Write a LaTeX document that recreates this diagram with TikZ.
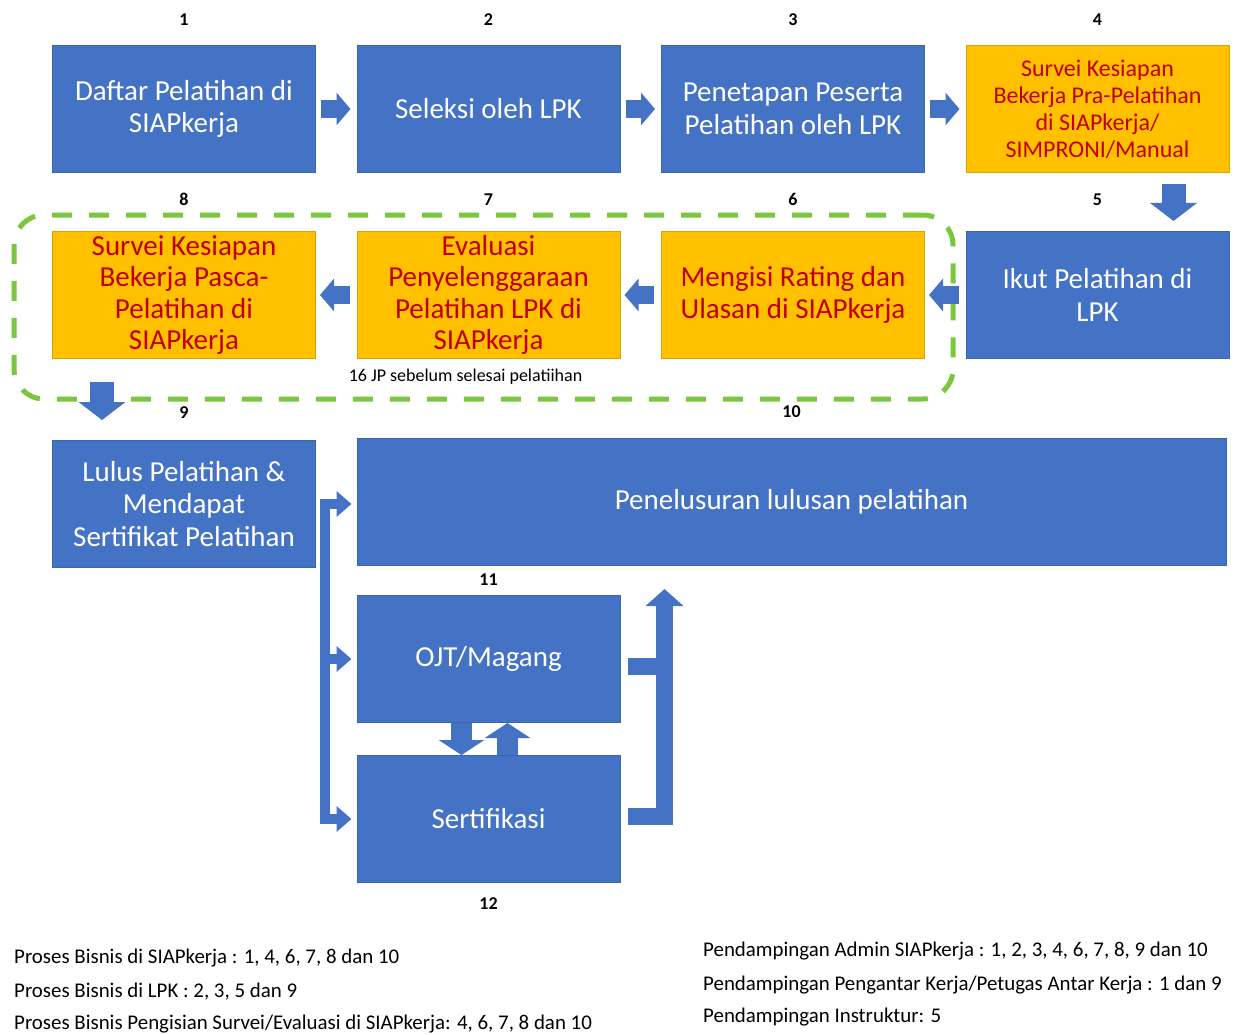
\documentclass[tikz,border=0pt]{standalone}
\usepackage{fontspec}
\setmainfont{Carlito}
\usetikzlibrary{positioning}
\usetikzlibrary{chains}
\usetikzlibrary{fit}
\usetikzlibrary{arrows.meta}
\definecolor{stepblue}{HTML}{4472C4}
\definecolor{stepedge}{HTML}{3B65B2}
\definecolor{surveygold}{HTML}{FFC000}
\definecolor{surveyedge}{HTML}{D9A400}
\definecolor{surveyred}{HTML}{C00000}
\definecolor{groupgreen}{RGB}{122,198,60}

\begin{document}
\begin{tikzpicture}[x=1pt, y=1pt,
            node distance = 40.5pt,
            start chain = going right,
            box/.style = {draw=stepedge, line width=1pt, fill=stepblue,
                text=white, inner sep=1pt, minimum width=263pt,
                minimum height=127pt, align=center,
                font=\fontsize{29}{32.5}\selectfont},
            gbox/.style = {box, draw=surveyedge, fill=surveygold,
                text=surveyred},
            num/.style = {font=\fontsize{18}{20}\selectfont\bfseries,
                inner sep=0pt},
            note/.style = {font=\fontsize{18}{20}\selectfont, inner sep=0pt},
            legend/.style = {font=\fontsize{20.9}{23}\selectfont,
                inner sep=0pt, anchor=west},
            fat/.style = {stepblue, line width=18pt,
                -{Triangle[width=32pt,length=14pt]}},
            drop/.style = {stepblue, line width=24pt,
                -{Triangle[width=46pt,length=18pt]}},
            swap/.style = {stepblue, line width=21pt,
                -{Triangle[width=45pt,length=15pt]}},
            bar/.style = {stepblue, line width=10pt, line cap=rect,
                line join=miter, -{Triangle[width=25pt,length=15pt]}},
            rise/.style = {stepblue, line width=17pt, line join=miter},
            group/.style = {draw=groupgreen, line width=5pt,
                dash pattern=on 20pt off 17pt, rounded corners=30pt,
                inner sep=0pt}]
            \useasboundingbox (0,0) rectangle (1236,-1035);
            % first row
            \node[box, on chain, anchor=north west,
                label={[num,label distance=19pt]above:1}] (b1) at (52,-45)
                {Daftar Pelatihan di\\SIAPkerja};
            \node[box, on chain,
                label={[num,label distance=19pt]above:2}] (b2)
                {Seleksi oleh LPK};
            \node[box, on chain,
                label={[num,label distance=19pt]above:3}] (b3)
                {Penetapan Peserta\\Pelatihan oleh LPK};
            \node[gbox, on chain, font=\fontsize{24}{27}\selectfont,
                label={[num,label distance=19pt]above:4}] (b4)
                {Survei Kesiapan\\Bekerja Pra-Pelatihan\\di SIAPkerja/\\SIMPRONI/Manual};
            % second row
            \node[box, below=58pt of b4,
                label={[num,label distance=25pt]above:5}] (b5)
                {Ikut Pelatihan di\\LPK};
            \node[gbox, left=of b5,
                label={[num,label distance=25pt]above:6}] (b6)
                {Mengisi Rating dan\\Ulasan di SIAPkerja};
            \node[gbox, left=of b6, font=\fontsize{29}{31.5}\selectfont,
                label={[num,label distance=25pt]above:7}] (b7)
                {Evaluasi\\Penyelenggaraan\\Pelatihan LPK di\\SIAPkerja};
            \node[gbox, left=of b7, font=\fontsize{29}{31.5}\selectfont,
                label={[num,label distance=25pt]above:8}] (b8)
                {Survei Kesiapan\\Bekerja Pasca-\\Pelatihan di\\SIAPkerja};
            \node[note, below=10pt of b7, xshift=-23pt] (jp)
                {16 JP sebelum selesai pelatiihan};
            \node[group, fit={([shift={(-38,16)}]b8.north west)
                ([shift={(28,-40)}]b6.south east)}] (grp) {};
            % third row
            \node[box, below=81pt of b8,
                label={[num,label distance=21pt]above:9}] (b9)
                {Lulus Pelatihan \&\\Mendapat\\Sertifikat Pelatihan};
            \node[box, right=of b9, yshift=2pt, minimum width=869pt,
                label={[num,label distance=20pt]above:10}] (b10)
                {Penelusuran lulusan pelatihan};
            \node[box, below right=29pt and 0pt of b10.south west,
                label={[num,label distance=9pt]above:11}] (b11)
                {OJT/Magang};
            \node[box, below=32pt of b11,
                label={[num,label distance=14pt]below:12}] (b12)
                {Sertifikasi};
            % block arrows
            \draw[fat, shorten <=5pt, shorten >=6pt] (b1) -- (b2);
            \draw[fat, shorten <=5pt, shorten >=6pt] (b2) -- (b3);
            \draw[fat, shorten <=5pt, shorten >=6pt] (b3) -- (b4);
            \draw[drop, shorten <=11pt, shorten >=10pt]
                ([xshift=76pt]b4.south) -- ([xshift=76pt]b4.south |- b5.north);
            \draw[fat, shorten <=7pt, shorten >=4pt] (b5) -- (b6);
            \draw[fat, shorten <=7pt, shorten >=4pt] (b6) -- (b7);
            \draw[fat, shorten <=7pt, shorten >=4pt] (b7) -- (b8);
            \draw[drop, shorten <=23pt, shorten >=20pt]
                ([xshift=-82pt]b8.south) -- ([xshift=-82pt]b8.south |- b9.north);
            % split after graduation
            \coordinate (split) at ([xshift=9pt]b9.east);
            \draw[bar, shorten >=5pt] (split |- b12.west) -- (split)
                -- (split -| b10.west);
            \draw[bar, shorten >=5pt] (split |- b11.west) -- (b11.west);
            \draw[bar, shorten >=5pt] (split |- b12.west) -- (b12.west);
            % between OJT and certification
            \draw[swap] ([xshift=-27pt]b11.south) -- ([xshift=-27pt]b12.north);
            \draw[swap] ([xshift=19pt]b12.north) -- ([xshift=19pt]b11.south);
            % back up to tracing
            \coordinate (up) at ([xshift=44pt,yshift=3pt]b12.east);
            \draw[rise, -{Triangle[width=37pt,length=17pt]}]
                ([xshift=7pt,yshift=3pt]b12.east) -- (up)
                -- ([yshift=6pt]up |- b11.north);
            \draw[rise] ([xshift=7pt,yshift=-7pt]b11.east)
                -- ([yshift=-7pt]up |- b11.east);
            % notes at the bottom
            \node[legend] (lgA) at (14,-958)
                {Proses Bisnis di SIAPkerja : 1, 4, 6, 7, 8 dan 10};
            \node[legend] (lgB) at (14,-992)
                {Proses Bisnis di LPK : 2, 3, 5 dan 9};
            \node[legend] (lgC) at (14,-1024)
                {Proses Bisnis Pengisian Survei/Evaluasi di SIAPkerja: 4, 6, 7, 8 dan 10};
            \node[legend] (lgD) at (703,-951)
                {Pendampingan Admin SIAPkerja : 1, 2, 3, 4, 6, 7, 8, 9 dan 10};
            \node[legend] (lgE) at (703,-985)
                {Pendampingan Pengantar Kerja/Petugas Antar Kerja : 1 dan 9};
            \node[legend] (lgF) at (703,-1017)
                {Pendampingan Instruktur: 5};
        \end{tikzpicture}
\end{document}
